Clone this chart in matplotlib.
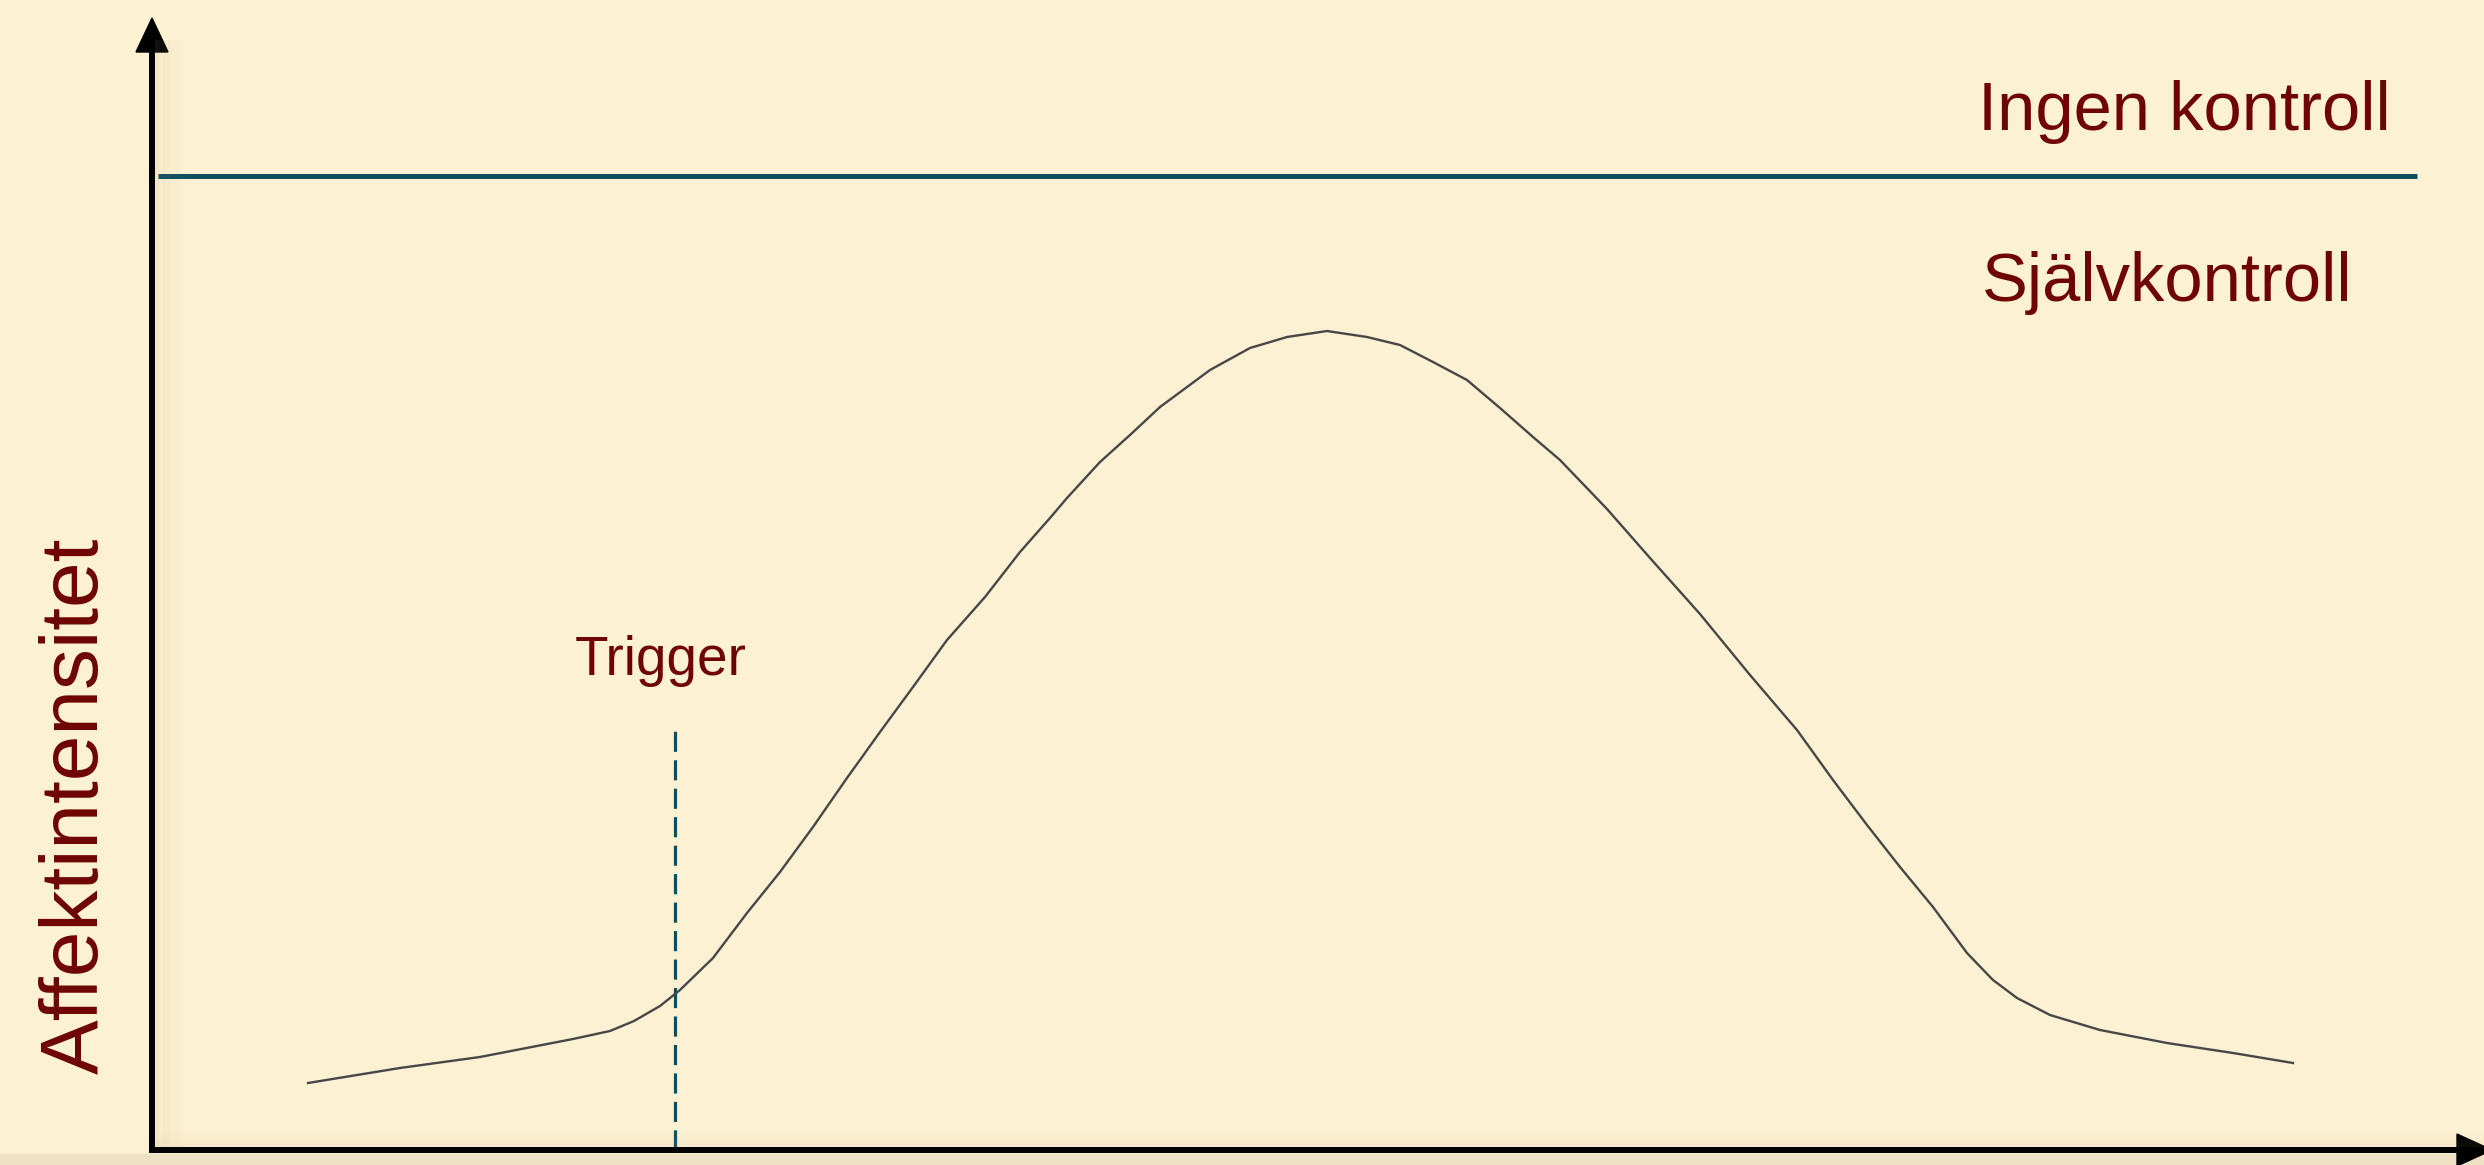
import matplotlib
matplotlib.use("Agg")
import matplotlib.pyplot as plt
from matplotlib.patches import Polygon
from matplotlib.lines import Line2D

plt.rcParams['font.family'] = ['Liberation Sans', 'DejaVu Sans']
plt.rcParams['lines.scale_dashes'] = False

# ---- data (time units, intensity units) ----
time = [15.6, 24.8, 32.8, 42.1, 45.8, 48.2, 50.8, 52.8, 56.1, 59.5, 62.8, 66.1,
        69.5, 72.8, 76.1, 79.5, 83.3, 86.8, 89.8, 91.5, 94.8, 97.8, 100.8,
        105.8, 109.8, 113.5, 117.5, 121.5, 124.8, 128.1, 131.5, 134.8, 138.1,
        140.8, 145.5, 149.8, 154.8, 159.8, 164.5, 168.1, 171.5, 174.8, 178.1,
        181.5, 184.1, 186.5, 189.8, 194.8, 201.5, 208.1, 214.1]
intensity = [6.7, 8.2, 9.3, 11.1, 11.9, 12.9, 14.4, 16.0, 19.2, 23.7, 27.8, 32.3,
             37.2, 41.8, 46.3, 51.0, 55.3, 59.8, 63.2, 65.2, 68.8, 71.5, 74.3,
             78.0, 80.2, 81.3, 81.9, 81.3, 80.5, 78.8, 77.0, 74.2, 71.3,
             69.0, 64.1, 59.2, 53.6, 47.5, 42.0, 37.0, 32.5, 28.3, 24.3,
             19.7, 17.0, 15.2, 13.5, 12.0, 10.7, 9.7, 8.7]
trigger_time = 52.3
trigger_top = 42.1
control_level = 97.4
control_span = [0.6, 226.5]

label_upper = "Ingen kontroll"
label_lower = "Självkontroll"
label_trigger = "Trigger"
label_y = "Affektintensitet"

BG = '#FDF1D3'
RED = '#6E0404'
TEAL = '#0E4F5F'

W, H = 2484, 1165
fig = plt.figure(figsize=(W / 100, H / 100), dpi=100, facecolor=BG)

def fx(px):
    return px / W

def fy(py):
    return 1 - py / H

# origin of the plot at pixel (152, 1150)
ox, oy = 152, 1150
ax = fig.add_axes([fx(ox), fy(oy), (W - ox) / W, oy / H], facecolor='none')
ax.set_xlim(0, (W - ox) / 10)
ax.set_ylim(0, oy / 10)
ax.axis('off')

# ---- shadows near axes ----
for i in range(14):
    a = 0.10 * (1 - i / 14)
    fig.add_artist(Line2D([fx(ox + 4 + i * 2.2)] * 2, [fy(1150), fy(40)],
                          transform=fig.transFigure, color='#b8a27a', alpha=a,
                          lw=1.6, solid_capstyle='butt'))
for i in range(8):
    a = 0.08 * (1 - i / 8)
    fig.add_artist(Line2D([fx(ox), fx(W)], [fy(oy - 4 - i * 2.0)] * 2,
                          transform=fig.transFigure, color='#b8a27a', alpha=a,
                          lw=1.5, solid_capstyle='butt'))
fig.add_artist(plt.Rectangle((0, 0), 1, fy(1154), transform=fig.transFigure,
                             color='#EDE0C4', zorder=0))

# ---- horizontal control line ----
ax.plot(control_span, [control_level, control_level], color=TEAL, lw=3.6,
        solid_capstyle='butt')

# ---- trigger dashed line ----
ax.plot([trigger_time, trigger_time], [0, trigger_top], color=TEAL, lw=2.3,
        dashes=(14.5, 6.0))

# ---- affect curve ----
ax.plot(time, intensity, color='#474747', lw=1.7, solid_joinstyle='round')

# ---- texts ----
ax.text(182.6, 102.0, label_upper, color=RED, fontsize=49.5, ha='left', va='baseline')
ax.text(183.0, 84.9, label_lower, color=RED, fontsize=49.5, ha='left', va='baseline')
ax.text(50.9, 47.5, label_trigger, color=RED, fontsize=39.5, ha='center', va='baseline')
fig.text(fx(98), fy(806), label_y, color=RED, fontsize=59, rotation=90,
         rotation_mode='anchor', ha='center', va='baseline')

# ---- axes with arrowheads ----
lw_ax = 4.3
fig.add_artist(Line2D([fx(ox), fx(ox)], [fy(oy + 3), fy(50)], transform=fig.transFigure,
                      color='black', lw=lw_ax, solid_capstyle='butt'))
fig.add_artist(Polygon([[fx(136), fy(52)], [fx(168), fy(52)], [fx(152), fy(18)]],
                       closed=True, transform=fig.transFigure, color='black'))
fig.add_artist(Line2D([fx(ox - 3), fx(2460)], [fy(oy), fy(oy)], transform=fig.transFigure,
                      color='black', lw=lw_ax, solid_capstyle='butt'))
fig.add_artist(Polygon([[fx(2457), fy(1134)], [fx(2457), fy(1166)], [fx(2492), fy(1150)]],
                       closed=True, transform=fig.transFigure, color='black'))

fig.savefig('out.png', dpi=100, facecolor=BG)
